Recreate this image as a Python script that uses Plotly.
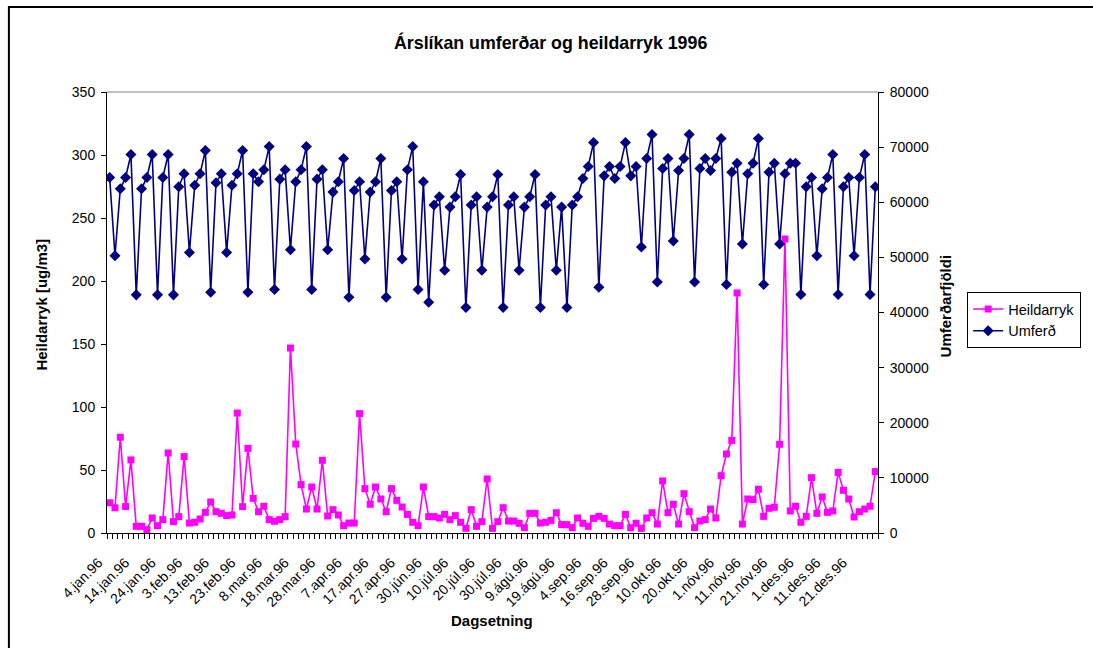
import plotly.graph_objects as go

# ---- data ----
tick_positions = list(range(0, 145, 5))
tick_labels = ["4.jan.96", "14.jan.96", "24.jan.96", "3.feb.96", "13.feb.96", "23.feb.96",
               "8.mar.96", "18.mar.96", "28.mar.96", "7.apr.96", "17.apr.96", "27.apr.96",
               "30.jún.96", "10.júl.96", "20.júl.96", "30.júl.96", "9.ágú.96", "19.ágú.96",
               "4.sep.96", "16.sep.96", "28.sep.96", "10.okt.96", "20.okt.96", "1.nóv.96",
               "11.nóv.96", "21.nóv.96", "1.des.96", "11.des.96", "21.des.96"]

heildarryk = [24, 20, 76, 21, 58, 5.3, 5.3, 2.6, 11.9, 5.8,
              10.6, 63.5, 9.0, 13, 60.6, 7.9, 8.5, 11.1, 16.4, 24.6,
              16.9, 15.6, 13.8, 14.3, 95.2, 20.9, 67.2, 27.5, 16.9, 21.2,
              10.6, 9.3, 10.6, 13, 146.8, 70.6, 38.4, 19, 36.5, 19,
              57.7, 13.5, 18.5, 14.3, 5.8, 7.9, 7.9, 94.7, 35.2, 22.8,
              36.5, 27, 16.9, 35.2, 25.9, 20.6, 14.8, 8.5, 5.8, 36.5,
              13, 13, 11.9, 14.8, 10.6, 13.8, 8.5, 3.7, 18.5, 5.3,
              9, 42.9, 3.7, 9, 20.1, 9.5, 9.5, 7.7, 4.2, 15.6,
              15.6, 7.9, 8.5, 10, 16.1, 6.6, 6.6, 4.2, 11.9, 7.7,
              5.3, 11.6, 13.2, 11.6, 7.1, 5.8, 5.8, 14.8, 4.2, 7.7,
              3.7, 11.9, 16.1, 7.1, 41.3, 16.1, 22.8, 7.1, 31.2, 16.9,
              4.2, 9.5, 10.6, 19, 11.9, 45.5, 62.7, 73.5, 190.5, 7.1,
              27, 26.5, 34.7, 13.2, 19.6, 20.4, 70.4, 233.3, 17.5, 21.2,
              8.5, 13.2, 43.9, 15.6, 28.6, 16.4, 17.5, 48.1, 33.9, 27,
              12.7, 16.9, 19, 21.2, 48.7]

umferd = [64500, 50300, 62440, 64500, 68660, 43200, 62440, 64500, 68660, 43200,
          64500, 68660, 43200, 62800, 65160, 50900, 63100, 65160, 69380, 43680,
          63530, 65160, 50900, 63100, 65160, 69380, 43680, 65160, 63710, 65880,
          70100, 44160, 64190, 65880, 51400, 63710, 65880, 70100, 44160, 64190,
          65880, 51400, 61840, 63710, 67930, 42770, 62140, 63710, 49710, 61840,
          63710, 67930, 42770, 62140, 63710, 49710, 65880, 70100, 44160, 63710,
          41870, 59490, 61000, 47660, 59120, 61000, 65040, 40900, 59490, 61000,
          47660, 59120, 61000, 65040, 40900, 59490, 61000, 47660, 59120, 61000,
          65040, 40900, 59490, 61000, 47660, 59120, 40900, 59490, 61000, 64310,
          66480, 70830, 44580, 64790, 66480, 64310, 66480, 70830, 64790, 66480,
          51880, 67930, 72280, 45550, 66120, 67930, 52970, 65760, 67930, 72280,
          45550, 66120, 67930, 65760, 67930, 71550, 45070, 65460, 67090, 52430,
          65160, 67090, 71550, 45070, 65460, 67090, 52430, 65160, 67090, 67090,
          43260, 62800, 64500, 50300, 62440, 64500, 68660, 43260, 62800, 64500,
          50300, 64500, 68660, 43260, 62800]

x_idx = list(range(len(heildarryk)))

FONT = "Liberation Sans, Arial, sans-serif"

# pixel layout helpers
W, H = 1093, 648
L, R, T, B = 107, 885, 92, 533


def px(xp):
    return (xp - L) / (R - L)


def py(yp):
    return (B - yp) / (B - T)


fig = go.Figure()
fig.add_trace(go.Scatter(
    x=x_idx, y=heildarryk, name="Heildarryk", mode="lines+markers",
    line=dict(color="#FF00FF", width=1.6),
    marker=dict(symbol="square", size=7, color="#FF00FF"),
    yaxis="y", hoverinfo="skip"))
fig.add_trace(go.Scatter(
    x=x_idx, y=umferd, name="Umferð", mode="lines+markers",
    line=dict(color="#000080", width=1.6),
    marker=dict(symbol="diamond", size=8.5, color="#000080"),
    yaxis="y2", hoverinfo="skip"))

axis_font = dict(family=FONT, size=14, color="black")
pad = "\u00a0" * 4

fig.update_layout(
    width=W, height=H, autosize=False,
    margin=dict(l=L, r=W - R, t=T, b=H - B, pad=0),
    paper_bgcolor="white", plot_bgcolor="white",
    showlegend=True,
    legend=dict(x=px(1090), y=py(292), xanchor="right", yanchor="top",
                bordercolor="black", borderwidth=1, bgcolor="white",
                font=dict(family=FONT, size=14.5, color="black"),
                tracegroupgap=0, itemwidth=30),
    xaxis=dict(range=[-0.5, len(x_idx) - 0.5], tickmode="array",
               tickvals=tick_positions, ticktext=[t + pad for t in tick_labels],
               tickangle=-45,
               ticks="", showline=True, linecolor="black", linewidth=1,
               showgrid=False, zeroline=False, tickfont=axis_font,
               ticklabelstandoff=4,
               minor=dict(tickmode="array",
                          tickvals=[i - 0.5 for i in range(len(x_idx) + 1)],
                          ticks="outside", ticklen=5, tickcolor="black",
                          tickwidth=1, showgrid=False)),
    yaxis=dict(range=[0, 350], dtick=50, tick0=0, ticks="outside", ticklen=5,
               tickcolor="black", showline=True, linecolor="black", linewidth=1,
               showgrid=False, zeroline=False, tickfont=axis_font,
               ticklabelstandoff=3),
    yaxis2=dict(range=[0, 80000], dtick=10000, tick0=0, overlaying="y",
                side="right", anchor="x", ticks="outside", ticklen=5,
                tickcolor="black", showline=True, linecolor="black", linewidth=1,
                showgrid=False, zeroline=False, tickfont=axis_font,
                tickformat="d", ticklabelstandoff=3),
    shapes=[
        dict(type="line", xref="paper", yref="paper", x0=0, x1=1, y0=1, y1=1,
             line=dict(color="#808080", width=1)),
        dict(type="rect", xref="paper", yref="paper",
             x0=px(8), x1=px(1120), y0=py(680), y1=py(7),
             line=dict(color="black", width=2), fillcolor="rgba(0,0,0,0)"),
    ],
    annotations=[
        dict(text="Árslíkan umferðar og heildarryk 1996", xref="paper", yref="paper",
             x=px(555), y=py(42), xanchor="center", yanchor="middle",
             showarrow=False, font=dict(family=FONT, size=17.8, color="black", weight="bold")),
        dict(text="Dagsetning", xref="paper", yref="paper",
             x=px(495), y=py(620), xanchor="center", yanchor="middle",
             showarrow=False, font=dict(family=FONT, size=15, color="black", weight="bold")),
        dict(text="Heildarryk [ug/m3]", xref="paper", yref="paper",
             x=px(40), y=py(305), xanchor="center", yanchor="middle", textangle=-90,
             showarrow=False, font=dict(family=FONT, size=15, color="black", weight="bold")),
        dict(text="Umferðarfjöldi", xref="paper", yref="paper",
             x=px(953), y=py(306), xanchor="center", yanchor="middle", textangle=-90,
             showarrow=False, font=dict(family=FONT, size=15, color="black", weight="bold")),
    ],
    hovermode=False,
)

fig.write_html("out.html", config={"displayModeBar": False},
               post_script="document.body.style.margin='0';document.body.style.overflow='hidden';")
